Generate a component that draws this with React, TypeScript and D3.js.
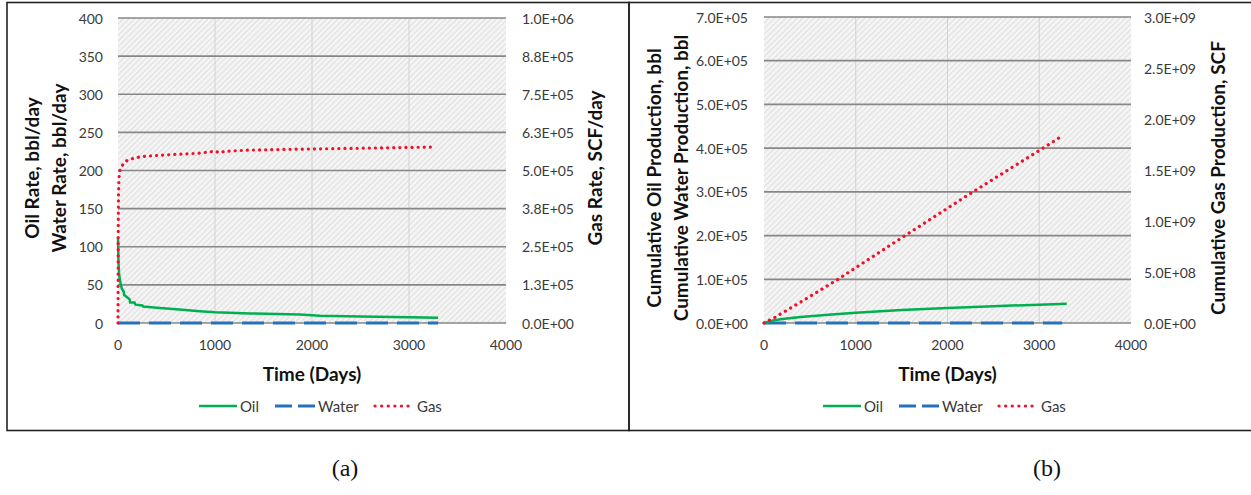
import React from "react";
import * as d3 from "d3";

// ---------- Data ----------
const xTicks = [0, 1000, 2000, 3000, 4000];

// Panel (a): rates
const rateLeftTicks = [0, 50, 100, 150, 200, 250, 300, 350, 400];
const rateRightTicks = [0, 125000, 250000, 375000, 500000, 625000, 750000, 875000, 1000000];

const oilRateDays = [0, 5, 10, 20, 30, 40, 60, 62, 100, 120, 125, 170, 180, 250, 260, 400, 600, 845, 1000, 1360, 1875, 2080, 2500, 3000, 3300];
const oilRate = [112, 80, 66, 56, 50, 45, 41, 37, 33, 31, 27, 27, 24, 23, 21.5, 20, 18, 15.5, 14, 12.5, 11, 9.5, 8.5, 7.5, 7];

const waterRateDays = [0, 3300];
const waterRate = [0, 0];

const gasRateDays = [0, 2, 5, 10, 20, 50, 100, 230, 430, 845, 1000, 1050, 1100, 1360, 1875, 2500, 3250];
const gasRate = [0, 300000, 420000, 475000, 500000, 520000, 535000, 545000, 550000, 557000, 563000, 558000, 563000, 567000, 570000, 573000, 577000];

// Panel (b): cumulative
const cumLeftTicks = [0, 100000, 200000, 300000, 400000, 500000, 600000, 700000];
const cumRightTicks = [0, 5e8, 1e9, 1.5e9, 2e9, 2.5e9, 3e9];

const cumOilDays = [0, 50, 100, 200, 400, 700, 1000, 1500, 2000, 2500, 3000, 3300];
const cumOil = [0, 3000, 5500, 9000, 13500, 19000, 23500, 29500, 34500, 38500, 42000, 44000];

const cumWaterDays = [0, 3250];
const cumWater = [0, 0];

const cumGasDays = [0, 100, 500, 807, 1537, 2278, 3040, 3260];
const cumGas = [0, 4.5e7, 2.6e8, 4.29e8, 8.57e8, 1.286e9, 1.714e9, 1.84e9];

// ---------- Helpers ----------
const fmtInt = (v: number) => String(v);
const fmtE = (v: number) => {
  const [m, e] = v.toExponential(1).split("e");
  const n = +e;
  return `${m}E${n < 0 ? "-" : "+"}${String(Math.abs(n)).padStart(2, "0")}`;
};

const GREEN = "#00b050";
const BLUE = "#2672b8";
const RED = "#f0102a";
const FONT = "Lato, 'Open Sans', sans-serif";

type PanelProps = {
  x0: number;
  x1: number;
  yTop: number;
  yBottom: number;
  leftMax: number;
  rightMax: number;
  leftTicks: number[];
  rightTicks: number[];
  leftFmt: (v: number) => string;
  rightFmt: (v: number) => string;
  leftLabelX: number;
  rightLabelX: number;
  leftTitles: string[];
  leftTitleX: number[];
  rightTitle: string;
  rightTitleX: number;
  titleCy: number;
  legendX: number;
  oil: [number[], number[]];
  water: [number[], number[]];
  gas: [number[], number[]];
};

function Panel(p: PanelProps) {
  const x = d3.scaleLinear().domain([0, 4000]).range([p.x0, p.x1]);
  const yL = d3.scaleLinear().domain([0, p.leftMax]).range([p.yBottom, p.yTop]);
  const yR = d3.scaleLinear().domain([0, p.rightMax]).range([p.yBottom, p.yTop]);
  const mk = (days: number[], vals: number[], y: d3.ScaleLinear<number, number>) =>
    d3.line<number>().x((_, i) => x(days[i])).y((v) => y(v))(vals) || "";
  const cx = (p.x0 + p.x1) / 2;
  const lg = p.legendX;
  const legY = 406;
  return (
    <g>
      <rect x={p.x0} y={p.yTop} width={p.x1 - p.x0} height={p.yBottom - p.yTop} fill={`url(#hatch)`} />
      {xTicks.slice(1, -1).map((t) => (
        <line key={"v" + t} x1={x(t)} x2={x(t)} y1={p.yTop} y2={p.yBottom} stroke="#d2d2d2" strokeWidth={1} />
      ))}
      {p.leftTicks.map((t) => (
        <line key={"h" + t} x1={p.x0} x2={p.x1} y1={yL(t)} y2={yL(t)} stroke="#878787" strokeWidth={1.7} />
      ))}
      {p.leftTicks.map((t) => (
        <text key={"l" + t} x={p.leftLabelX} y={yL(t)} textAnchor="end" dominantBaseline="central" fontSize={14} fill="#3a3a3a">
          {p.leftFmt(t)}
        </text>
      ))}
      {p.rightTicks.map((t) => (
        <text key={"r" + t} x={p.rightLabelX} y={yR(t)} textAnchor="start" dominantBaseline="central" fontSize={14} fill="#3a3a3a">
          {p.rightFmt(t)}
        </text>
      ))}
      {xTicks.map((t) => (
        <text key={"x" + t} x={x(t)} y={344} textAnchor="middle" dominantBaseline="central" fontSize={14} fill="#3a3a3a">
          {t}
        </text>
      ))}
      <text x={cx} y={373} textAnchor="middle" dominantBaseline="central" fontSize={19} fontWeight="bold" fill="#111">
        Time (Days)
      </text>
      {p.leftTitles.map((t, i) => (
        <text
          key={"lt" + i}
          transform={`translate(${p.leftTitleX[i]},${p.titleCy}) rotate(-90)`}
          textAnchor="middle"
          dominantBaseline="central"
          fontSize={19}
          fontWeight="bold"
          fill="#111"
        >
          {t}
        </text>
      ))}
      <text
        transform={`translate(${p.rightTitleX},${p.titleCy}) rotate(-90)`}
        textAnchor="middle"
        dominantBaseline="central"
        fontSize={19}
        fontWeight="bold"
        fill="#111"
      >
        {p.rightTitle}
      </text>
      {/* series */}
      <path d={mk(p.water[0], p.water[1], yL)} fill="none" stroke={BLUE} strokeWidth={3} strokeDasharray="22 9" />
      <path d={mk(p.oil[0], p.oil[1], yL)} fill="none" stroke={GREEN} strokeWidth={2.5} />
      <path d={mk(p.gas[0], p.gas[1], yR)} fill="none" stroke={RED} strokeWidth={3.2} strokeDasharray="0.1 6" strokeLinecap="round" />
      {/* legend */}
      <line x1={lg} x2={lg + 38} y1={legY} y2={legY} stroke={GREEN} strokeWidth={2.5} />
      <text x={lg + 41} y={legY} dominantBaseline="central" fontSize={15} fill="#3a3a3a">Oil</text>
      <line x1={lg + 76} x2={lg + 116} y1={legY} y2={legY} stroke={BLUE} strokeWidth={3} strokeDasharray="17 6" />
      <text x={lg + 119} y={legY} dominantBaseline="central" fontSize={15} fill="#3a3a3a">Water</text>
      <line x1={lg + 176} x2={lg + 214} y1={legY} y2={legY} stroke={RED} strokeWidth={3.2} strokeDasharray="0.1 6.5" strokeLinecap="round" />
      <text x={lg + 218} y={legY} dominantBaseline="central" fontSize={15} fill="#3a3a3a">Gas</text>
    </g>
  );
}

export default function App() {
  return (
    <svg width={1251} height={495} style={{ position: "absolute", left: 0, top: 0, background: "#fff" }} fontFamily={FONT}>
      <defs>
        <pattern id="hatch" patternUnits="userSpaceOnUse" width={4} height={4} patternTransform="rotate(45)">
          <rect width={4} height={4} fill="#f4f4f4" />
          <line x1={0} y1={0} x2={0} y2={4} stroke="#d8d8d8" strokeWidth={1.5} />
        </pattern>
      </defs>
      <rect x={0} y={0} width={1251} height={495} fill="#fff" />
      {/* frames */}
      <rect x={7} y={2.5} width={622} height={428} fill="none" stroke="#222" strokeWidth={1.6} />
      <rect x={629} y={2.5} width={640} height={428} fill="none" stroke="#222" strokeWidth={1.6} />
      <Panel
        x0={118}
        x1={506}
        yTop={18}
        yBottom={323}
        leftMax={400}
        rightMax={1000000}
        leftTicks={rateLeftTicks}
        rightTicks={rateRightTicks}
        leftFmt={fmtInt}
        rightFmt={fmtE}
        leftLabelX={103}
        rightLabelX={522}
        leftTitles={["Oil Rate, bbl/day", "Water Rate, bbl/day"]}
        leftTitleX={[31, 58]}
        rightTitle="Gas Rate, SCF/day"
        rightTitleX={594}
        titleCy={168}
        legendX={199}
        oil={[oilRateDays, oilRate]}
        water={[waterRateDays, waterRate]}
        gas={[gasRateDays, gasRate]}
      />
      <Panel
        x0={764}
        x1={1131}
        yTop={17}
        yBottom={323}
        leftMax={700000}
        rightMax={3e9}
        leftTicks={cumLeftTicks}
        rightTicks={cumRightTicks}
        leftFmt={fmtE}
        rightFmt={fmtE}
        leftLabelX={748}
        rightLabelX={1144}
        leftTitles={["Cumulative Oil Production, bbl", "Cumulative Water Production, bbl"]}
        leftTitleX={[653, 680]}
        rightTitle="Cumulative Gas Production, SCF"
        rightTitleX={1217}
        titleCy={178}
        legendX={823}
        oil={[cumOilDays, cumOil]}
        water={[cumWaterDays, cumWater]}
        gas={[cumGasDays, cumGas]}
      />
      <text x={345} y={468} textAnchor="middle" dominantBaseline="central" fontFamily="'Liberation Serif', 'Times New Roman', serif" fontSize={24} fill="#111">(a)</text>
      <text x={1047} y={468} textAnchor="middle" dominantBaseline="central" fontFamily="'Liberation Serif', 'Times New Roman', serif" fontSize={24} fill="#111">(b)</text>
    </svg>
  );
}
